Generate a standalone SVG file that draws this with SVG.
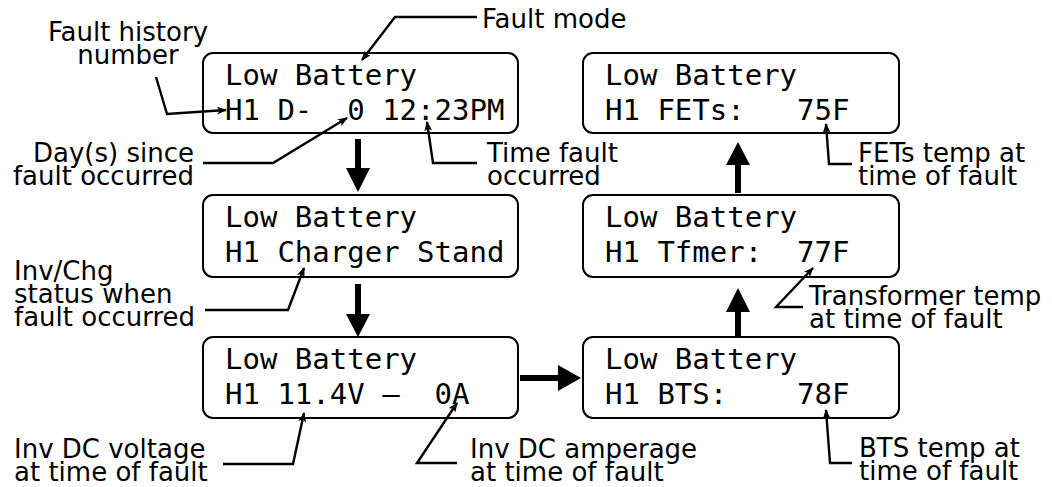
<svg xmlns="http://www.w3.org/2000/svg" width="1052" height="487" viewBox="0 0 1052 487">
<defs>
<style>
.box{fill:#fff;stroke:#000;stroke-width:2}
.lcd{font-family:"DejaVu Sans Mono","Liberation Mono",monospace;font-size:29px;fill:#000;white-space:pre}
.lbl{font-family:"DejaVu Sans","Liberation Sans",sans-serif;font-size:26px;fill:#000}
.ld{fill:none;stroke:#000;stroke-width:2.4;stroke-linejoin:miter;marker-end:url(#ah)}
.big{fill:#000;stroke:none}
</style>
<marker id="ah" viewBox="0 0 10 8" refX="9" refY="4" markerWidth="10" markerHeight="8" markerUnits="userSpaceOnUse" orient="auto">
<path d="M0,0 L10,4 L0,8 L2.5,4 z" fill="#000"/>
</marker>
</defs>
<rect width="1052" height="487" fill="#fff"/>

<g id="box-l1">
<rect class="box" x="203" y="53" width="315" height="80" rx="10"/>
<text class="lcd" x="225" y="85" xml:space="preserve">Low Battery</text>
<text class="lcd" x="225" y="120" xml:space="preserve">H1 D-  0 12:23PM</text>
</g>
<g id="box-l2">
<rect class="box" x="203" y="195" width="315" height="82" rx="10"/>
<text class="lcd" x="225" y="227" xml:space="preserve">Low Battery</text>
<text class="lcd" x="225" y="262" xml:space="preserve">H1 Charger Stand</text>
</g>
<g id="box-l3">
<rect class="box" x="203" y="337" width="315" height="81" rx="10"/>
<text class="lcd" x="225" y="369" xml:space="preserve">Low Battery</text>
<text class="lcd" x="225" y="404" xml:space="preserve">H1 11.4V –  0A</text>
</g>
<g id="box-r3">
<rect class="box" x="583" y="337" width="316" height="81" rx="10"/>
<text class="lcd" x="605" y="369" xml:space="preserve">Low Battery</text>
<text class="lcd" x="605" y="404" xml:space="preserve">H1 BTS:    78F</text>
</g>
<g id="box-r2">
<rect class="box" x="583" y="195" width="316" height="82" rx="10"/>
<text class="lcd" x="605" y="227" xml:space="preserve">Low Battery</text>
<text class="lcd" x="605" y="262" xml:space="preserve">H1 Tfmer:  77F</text>
</g>
<g id="box-r1">
<rect class="box" x="583" y="53" width="316" height="80" rx="10"/>
<text class="lcd" x="605" y="85" xml:space="preserve">Low Battery</text>
<text class="lcd" x="605" y="120" xml:space="preserve">H1 FETs:   75F</text>
</g>

<g id="labels">
<g id="lbl-history"><text class="lbl" x="128" y="41" text-anchor="middle">Fault history</text><text class="lbl" x="128" y="63.5" text-anchor="middle">number</text></g>
<g id="lbl-mode"><text class="lbl" x="482" y="28">Fault mode</text></g>
<g id="lbl-days"><text class="lbl" x="194" y="162" text-anchor="end">Day(s) since</text><text class="lbl" x="194" y="184.5" text-anchor="end">fault occurred</text></g>
<g id="lbl-time"><text class="lbl" x="487" y="162">Time fault</text><text class="lbl" x="487" y="184.5">occurred</text></g>
<g id="lbl-status"><text class="lbl" x="14" y="280">Inv/Chg</text><text class="lbl" x="14" y="303">status when</text><text class="lbl" x="14" y="326">fault occurred</text></g>
<g id="lbl-volt"><text class="lbl" x="14" y="458">Inv DC voltage</text><text class="lbl" x="14" y="480.5">at time of fault</text></g>
<g id="lbl-amp"><text class="lbl" x="470" y="458">Inv DC amperage</text><text class="lbl" x="470" y="480.5">at time of fault</text></g>
<g id="lbl-bts"><text class="lbl" x="859" y="457">BTS temp at</text><text class="lbl" x="859" y="479.5">time of fault</text></g>
<g id="lbl-tfmer"><text class="lbl" x="809" y="305">Transformer temp</text><text class="lbl" x="809" y="328">at time of fault</text></g>
<g id="lbl-fets"><text class="lbl" x="858" y="162">FETs temp at</text><text class="lbl" x="858" y="184.5">time of fault</text></g>
</g>

<g id="connectors">
<polyline class="ld" points="477,17 395,17 362,60"/>
<polyline class="ld" points="156,77 167,114 226,110"/>
<polyline class="ld" points="203,163 273,163 347,118"/>
<polyline class="ld" points="477,163 433,163 427,122"/>
<polyline class="ld" points="205,310 288,310 304,268"/>
<polyline class="ld" points="223,464 293,464 304,413"/>
<polyline class="ld" points="457,463 417,463 457,403"/>
<polyline class="ld" points="852,164 829,164 826,124"/>
<polyline class="ld" points="803,307 776,307 813,268"/>
<polyline class="ld" points="852,463 830,463 826,410"/>
<path class="big" d="M355,139 H361 V168 H370 L358,192 L346,168 H355 Z"/>
<path class="big" d="M355,284 H361 V314 H370 L358,337 L346,314 H355 Z"/>
<path class="big" d="M520,375 H558 V365 L581,378 L558,391 V381 H520 Z"/>
<path class="big" d="M735,193 H741 V165 H750 L738,142 L726,165 H735 Z"/>
<path class="big" d="M735,338 H741 V312 H750 L738,288 L726,312 H735 Z"/>
</g>
</svg>
